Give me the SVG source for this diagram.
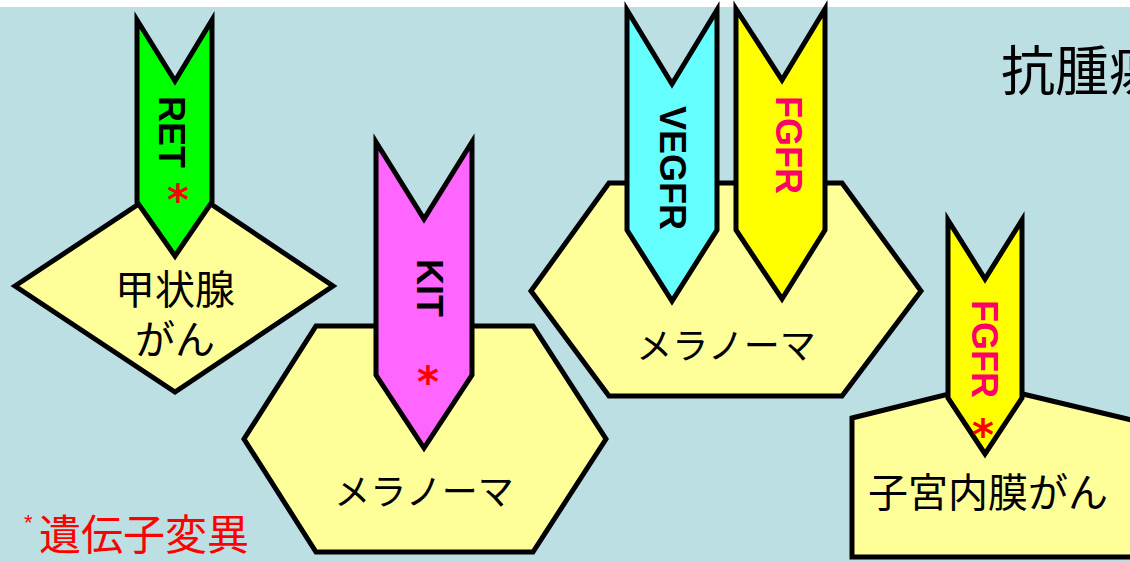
<svg xmlns="http://www.w3.org/2000/svg" width="1130" height="562" viewBox="0 0 1130 562">
<style>
.shape{fill:#FFFF99;stroke:#000;stroke-width:5;stroke-linejoin:miter}
.arrow{stroke:#000;stroke-width:5;stroke-linejoin:miter}
.jp{font-family:"Noto Sans CJK JP","Noto Sans CJK SC",sans-serif;fill:#000;dominant-baseline:central;text-anchor:middle}
.lbl{font-family:"Liberation Sans",Arial,sans-serif;font-weight:bold;font-size:36px;text-anchor:middle}
.ast{font-family:"DejaVu Sans",sans-serif;font-weight:bold;font-size:42px;fill:#FF0000;text-anchor:middle}
</style>
<rect x="0" y="0" width="1130" height="562" fill="#FFFFFF"/>
<rect x="0" y="7" width="1130" height="555" fill="#BBDFE3"/>

<g id="thyroid">
<polygon class="shape" points="15,286 175,180 333,286 175,392"/>
<text class="jp" font-size="40"><tspan x="175" y="287">甲状腺</tspan><tspan x="175" y="337">がん</tspan></text>
</g>

<g id="melanoma1">
<polygon class="shape" points="316,326 533,326 606,439 533,552 316,552 244,439"/>
<text class="jp" x="424" y="489" font-size="36">メラノーマ</text>
</g>

<g id="melanoma2">
<polygon class="shape" points="609,183 842,183 921,291 842,396 609,396 531,291"/>
<text class="jp" x="726" y="343" font-size="36">メラノーマ</text>
</g>

<g id="endometrial">
<polygon class="shape" points="852,418 985,385 1140,422 1140,557 852,557"/>
<text class="jp" x="988" y="490" font-size="40">子宮内膜がん</text>
</g>

<g id="RET">
<polygon class="arrow" fill="#00FF00" points="137,20 175,81 212,20 212,202 175,256 137,202"/>
<text class="lbl" fill="#000" transform="translate(171,132) rotate(90)" y="12.5">RET</text>
<text class="ast" x="178" y="215">*</text>
</g>

<g id="KIT">
<polygon class="arrow" fill="#FF66FF" points="376,142 424,219 472,142 472,375 424,448 376,375"/>
<text class="lbl" fill="#000" transform="translate(429,288) rotate(90)" y="12.5">KIT</text>
<text class="ast" x="428" y="397">*</text>
</g>

<g id="VEGFR">
<polygon class="arrow" fill="#66FFFF" points="627,10 672,84 717,10 717,230 672,301 627,230"/>
<text class="lbl" fill="#000" transform="translate(672,168) rotate(90)" y="12.5">VEGFR</text>
</g>

<g id="FGFR1">
<polygon class="arrow" fill="#FFFF00" points="736,9 782,80 825,9 825,230 782,299 736,230"/>
<text class="lbl" fill="#FF0066" transform="translate(788,145) rotate(90)" y="12.5">FGFR</text>
</g>

<g id="FGFR2">
<polygon class="arrow" fill="#FFFF00" points="948,220 985,279 1022,220 1022,398 985,454 948,398"/>
<text class="lbl" fill="#FF0066" transform="translate(984,349) rotate(90)" y="12.5">FGFR</text>
<text class="ast" x="983" y="450">*</text>
</g>

<g id="connectors"></g>

<g id="title">
<text class="jp" x="1001" y="67" font-size="54" style="text-anchor:start">抗腫瘍</text>
</g>

<g id="legend">
<text x="24" y="530" font-family="Liberation Sans,sans-serif" font-size="22" fill="#FF0000">*</text>
<text class="jp" x="39" y="531" font-size="42" style="text-anchor:start;fill:#FF0000">遺伝子変異</text>
</g>
</svg>
